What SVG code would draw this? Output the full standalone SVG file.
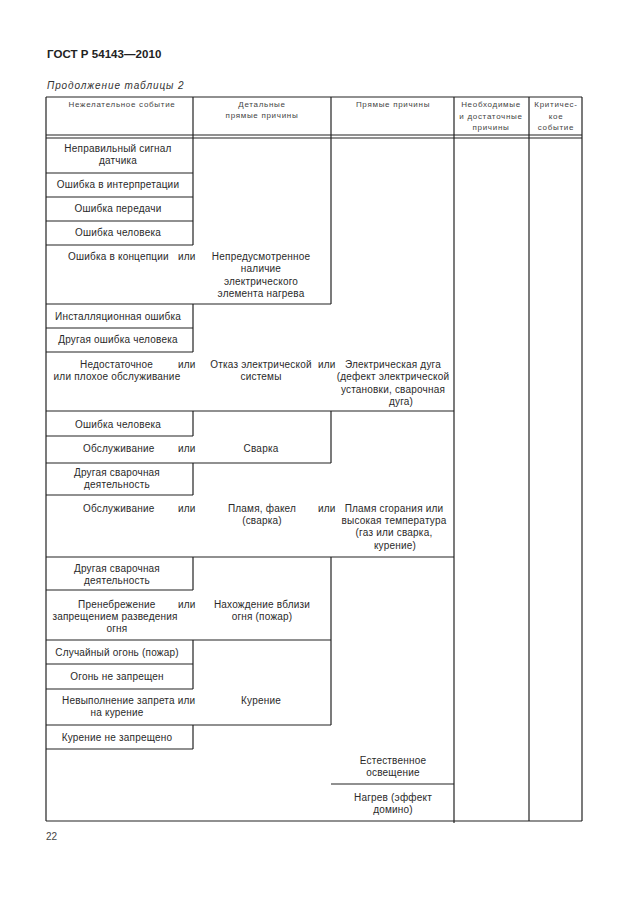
<svg xmlns="http://www.w3.org/2000/svg" width="630" height="913" viewBox="0 0 630 913">
<style>
text{font-family:"Liberation Sans",Arial,sans-serif;fill:#2a2a2a;}
.t{font-size:10px;letter-spacing:0.2px;}
.c{text-anchor:middle;}
.h{font-size:8px;letter-spacing:0.7px;fill:#444;text-anchor:middle;}
.ln line{stroke:#222;stroke-width:1.2;}
</style>
<rect width="630" height="913" fill="#fff"/>
<g id="title">
<text x="47" y="58" style="font-size:11.5px;font-weight:bold;letter-spacing:0.05px;fill:#222">ГОСТ Р 54143—2010</text>
<text x="47" y="89" style="font-size:10px;font-style:italic;letter-spacing:0.9px;fill:#333">Продолжение таблицы 2</text>
</g>
<g id="header">
<text class="h" x="122" y="107">Нежелательное событие</text>
<text class="h" x="262" y="107">Детальные</text>
<text class="h" x="262" y="118">прямые причины</text>
<text class="h" x="393" y="107">Прямые причины</text>
<text class="h" x="491" y="107">Необходимые</text>
<text class="h" x="491" y="119">и достаточные</text>
<text class="h" x="491" y="130">причины</text>
<text class="h" x="556" y="107">Критичес-</text>
<text class="h" x="556" y="119">кое</text>
<text class="h" x="556" y="130">событие</text>
</g>
<g id="lines" class="ln">
<line x1="46" y1="97" x2="582" y2="97"/>
<line x1="46" y1="135" x2="582" y2="135"/>
<line x1="46" y1="138" x2="582" y2="138"/>
<line x1="46" y1="821" x2="582" y2="821"/>
<line x1="46" y1="97" x2="46" y2="821"/>
<line x1="582" y1="97" x2="582" y2="821"/>
<line x1="529" y1="97" x2="529" y2="821"/>
<line x1="454" y1="97" x2="454" y2="823"/>
<line x1="193" y1="97" x2="193" y2="245"/>
<line x1="193" y1="304" x2="193" y2="352"/>
<line x1="193" y1="411" x2="193" y2="436"/>
<line x1="193" y1="463" x2="193" y2="495"/>
<line x1="193" y1="557" x2="193" y2="590"/>
<line x1="193" y1="640" x2="193" y2="689"/>
<line x1="193" y1="725" x2="193" y2="749"/>
<line x1="331" y1="97" x2="331" y2="304"/>
<line x1="331" y1="411" x2="331" y2="463"/>
<line x1="331" y1="557" x2="331" y2="725"/>
<line x1="46" y1="173" x2="193" y2="173"/>
<line x1="46" y1="197" x2="193" y2="197"/>
<line x1="46" y1="221" x2="193" y2="221"/>
<line x1="46" y1="245" x2="193" y2="245"/>
<line x1="46" y1="304" x2="331" y2="304"/>
<line x1="46" y1="328" x2="193" y2="328"/>
<line x1="46" y1="352" x2="193" y2="352"/>
<line x1="46" y1="411" x2="454" y2="411"/>
<line x1="46" y1="436" x2="193" y2="436"/>
<line x1="46" y1="463" x2="331" y2="463"/>
<line x1="46" y1="495" x2="193" y2="495"/>
<line x1="46" y1="557" x2="454" y2="557"/>
<line x1="46" y1="590" x2="193" y2="590"/>
<line x1="46" y1="640" x2="331" y2="640"/>
<line x1="46" y1="664" x2="193" y2="664"/>
<line x1="46" y1="689" x2="193" y2="689"/>
<line x1="46" y1="725" x2="331" y2="725"/>
<line x1="46" y1="749" x2="193" y2="749"/>
<line x1="331" y1="784" x2="454" y2="784"/>
</g>
<g id="r1"><text class="t c" x="118" y="152">Неправильный сигнал</text><text class="t c" x="118" y="164">датчика</text></g>
<g id="r2"><text class="t c" x="118" y="188">Ошибка в интерпретации</text></g>
<g id="r3"><text class="t c" x="118" y="212">Ошибка передачи</text></g>
<g id="r4"><text class="t c" x="118" y="236">Ошибка человека</text></g>
<g id="r5">
<text class="t" x="68" y="260">Ошибка в концепции</text><text class="t" x="178" y="260">или</text>
<text class="t c" x="261" y="260">Непредусмотренное</text>
<text class="t c" x="261" y="272">наличие</text>
<text class="t c" x="261" y="285">электрического</text>
<text class="t c" x="261" y="297">элемента нагрева</text>
</g>
<g id="r6"><text class="t c" x="118" y="320">Инсталляционная ошибка</text></g>
<g id="r7"><text class="t c" x="118" y="343">Другая ошибка человека</text></g>
<g id="r8">
<text class="t" x="80" y="368">Недостаточное</text><text class="t" x="178" y="368">или</text>
<text class="t c" x="117" y="380">или плохое обслуживание</text>
<text class="t c" x="261" y="368">Отказ электрической</text><text class="t" x="318" y="368">или</text>
<text class="t c" x="261" y="380">системы</text>
<text class="t c" x="393" y="368">Электрическая дуга</text>
<text class="t c" x="393" y="380">(дефект электрической</text>
<text class="t c" x="393" y="393">установки, сварочная</text>
<text class="t c" x="401" y="405">дуга)</text>
</g>
<g id="r9"><text class="t c" x="118" y="428">Ошибка человека</text></g>
<g id="r10">
<text class="t" x="83" y="452">Обслуживание</text><text class="t" x="178" y="452">или</text>
<text class="t c" x="261" y="452">Сварка</text>
</g>
<g id="r11"><text class="t c" x="117" y="476">Другая сварочная</text><text class="t c" x="117" y="488">деятельность</text></g>
<g id="r12">
<text class="t" x="83" y="512">Обслуживание</text><text class="t" x="178" y="512">или</text>
<text class="t c" x="262" y="512">Пламя, факел</text><text class="t" x="318" y="512">или</text>
<text class="t c" x="262" y="524">(сварка)</text>
<text class="t c" x="394" y="512">Пламя сгорания или</text>
<text class="t c" x="394" y="524">высокая температура</text>
<text class="t c" x="394" y="536">(газ или сварка,</text>
<text class="t c" x="395" y="549">курение)</text>
</g>
<g id="r13"><text class="t c" x="117" y="572">Другая сварочная</text><text class="t c" x="117" y="584">деятельность</text></g>
<g id="r14">
<text class="t" x="78" y="608">Пренебрежение</text><text class="t" x="178" y="608">или</text>
<text class="t c" x="115" y="620">запрещением разведения</text>
<text class="t c" x="117" y="632">огня</text>
<text class="t c" x="262" y="608">Нахождение вблизи</text>
<text class="t c" x="262" y="620">огня (пожар)</text>
</g>
<g id="r15"><text class="t c" x="117" y="656">Случайный огонь (пожар)</text></g>
<g id="r16"><text class="t c" x="117" y="680">Огонь не запрещен</text></g>
<g id="r17">
<text class="t" x="62" y="704">Невыполнение запрета или</text>
<text class="t c" x="117" y="716">на курение</text>
<text class="t c" x="261" y="704">Курение</text>
</g>
<g id="r18"><text class="t c" x="117" y="741">Курение не запрещено</text></g>
<g id="r19">
<text class="t c" x="393" y="764">Естественное</text>
<text class="t c" x="393" y="776">освещение</text>
</g>
<g id="r20">
<text class="t c" x="393" y="801">Нагрев (эффект</text>
<text class="t c" x="393" y="813">домино)</text>
</g>
<g id="page"><text x="46" y="840" style="font-size:10px;fill:#444">22</text></g>
</svg>
